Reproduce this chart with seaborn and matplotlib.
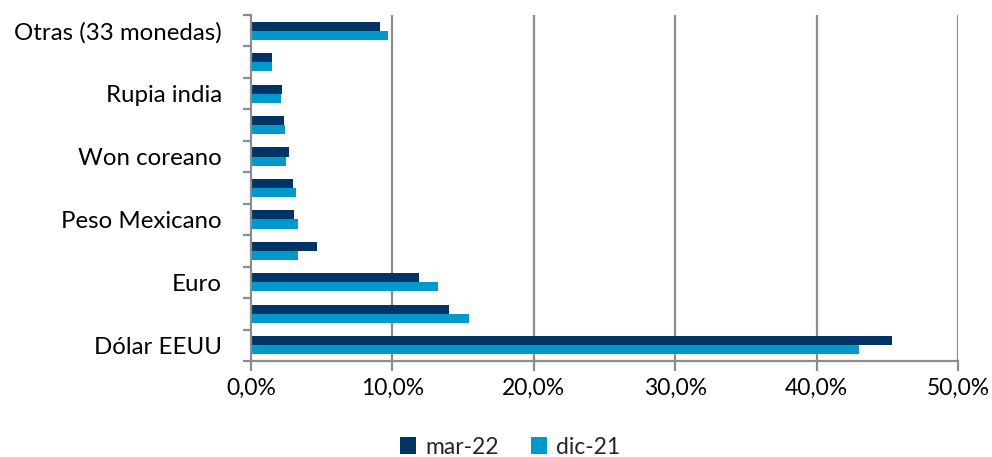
import numpy as np
import pandas as pd
import matplotlib
matplotlib.use("Agg")
import matplotlib.pyplot as plt
import seaborn as sns
from matplotlib.ticker import FixedLocator, FuncFormatter
from matplotlib.patches import Patch

# Categories from top to bottom (hidden labels kept as placeholders)
categories = ["Otras (33 monedas)", "cat_10", "Rupia india", "cat_8", "Won coreano",
              "cat_6", "Peso Mexicano", "cat_4", "Euro", "cat_2", "Dólar EEUU"]
tick_labels = ["Otras (33 monedas)", "", "Rupia india", "", "Won coreano",
               "", "Peso Mexicano", "", "Euro", "", "Dólar EEUU"]
series_names = ["mar-22", "dic-21"]
mar22 = [9.1, 1.5, 2.2, 2.3, 2.7, 3.0, 3.05, 4.7, 11.9, 14.0, 45.3]
dic21 = [9.7, 1.5, 2.1, 2.4, 2.5, 3.2, 3.3, 3.35, 13.2, 15.4, 43.0]
x_ticks = [0, 10, 20, 30, 40, 50]

colors = ["#003366", "#0099CC"]

df = pd.DataFrame({
    "cat": categories * 2,
    "serie": [series_names[0]] * len(categories) + [series_names[1]] * len(categories),
    "val": mar22 + dic21,
})

sns.set_theme(style="white")
plt.rcParams["font.family"] = ["Lato", "DejaVu Sans"]
FS = 17.3

fig = plt.figure(figsize=(9.92, 4.57), dpi=100)
ax = fig.add_axes([251 / 992, 1 - 361 / 457, (958 - 251) / 992, (361 - 15) / 457])

sns.barplot(data=df, y="cat", x="val", hue="serie", order=categories,
            hue_order=series_names, palette=colors, orient="h", width=0.58,
            saturation=1, ax=ax, legend=False, linewidth=0)

ax.set_xlim(0, 50)
ax.set_ylim(len(categories) - 0.5, -0.5)
ax.set_xlabel("")
ax.set_ylabel("")

grid_col = "#8c8c8c"
for v in x_ticks[1:]:
    ax.axvline(v, color=grid_col, lw=1.6, zorder=0)

ax.set_xticks(x_ticks)
ax.xaxis.set_major_formatter(FuncFormatter(lambda v, p: f"{v:.1f}%".replace(".", ",")))
ax.tick_params(axis="x", length=7, width=1.6, color=grid_col, labelsize=16.5,
               pad=5, labelcolor="#000000", direction="out", bottom=True)

# Left axis: ticks at category boundaries, labels at centres
ax.yaxis.set_major_locator(FixedLocator(np.arange(-0.5, len(categories), 1.0)))
ax.yaxis.set_major_formatter(FuncFormatter(lambda v, p: ""))
ax.yaxis.set_minor_locator(FixedLocator(np.arange(len(categories))))
ax.set_yticklabels(tick_labels, minor=True)
ax.tick_params(axis="y", which="major", length=6, width=1.6, color=grid_col,
               direction="out", left=True)
ax.tick_params(axis="y", which="minor", length=0, pad=21, labelsize=FS,
               labelcolor="#000000", left=True)

for s in ["top", "right"]:
    ax.spines[s].set_visible(False)
for s in ["left", "bottom"]:
    ax.spines[s].set_color(grid_col)
    ax.spines[s].set_linewidth(1.6)

handles = [Patch(facecolor=c, edgecolor="none") for c in colors]
fig.legend(handles, series_names, loc="center", bbox_to_anchor=(510 / 992, 1 - 447 / 457),
           ncol=2, frameon=False, fontsize=16.5, handlelength=0.7, handleheight=0.7,
           handletextpad=0.4, columnspacing=1.4)

fig.savefig("out.png", dpi=100)
